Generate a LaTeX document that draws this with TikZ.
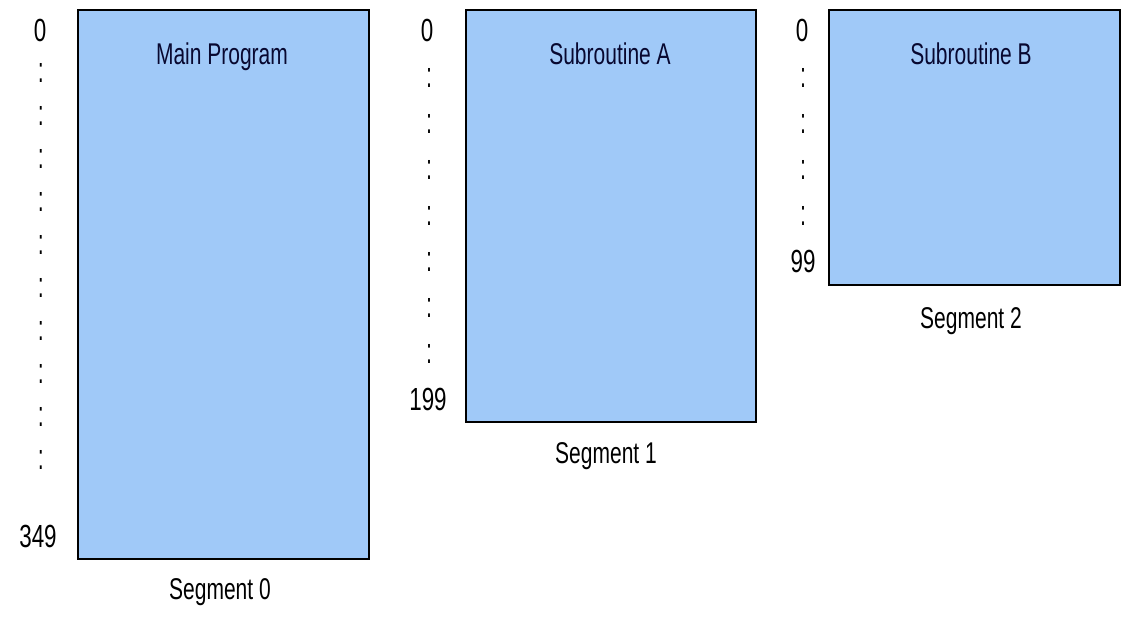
\documentclass[tikz,border=0pt]{standalone}
\usepackage{fontspec}
\usepackage{graphicx}
\usepackage{tikz}
\usepackage{xcolor}
\setmainfont{Liberation Sans}
\usetikzlibrary{positioning}
\definecolor{segBlue}{RGB}{160,201,248}
\definecolor{segText}{RGB}{8,8,48}
\tikzset{
  segbox/.style={draw=black, line width=2pt, fill=segBlue, inner sep=0pt, outer sep=0pt},
  segtitle/.style={anchor=base, inner sep=0pt, text=segText, font=\fontsize{30}{30}\selectfont},
  seglabel/.style={anchor=base, inner sep=0pt, font=\fontsize{30}{30}\selectfont},
  addr/.style={anchor=base, inner sep=0pt, font=\fontsize{32}{32}\selectfont},
  addrdots/.style={inner sep=0pt, font=\fontsize{36}{36}\selectfont}
}
\newcommand{\narrowtxt}[1]{\scalebox{0.7}[1]{#1}}

\begin{document}
\begin{tikzpicture}[x=1pt,y=-1pt]
  \useasboundingbox (0,0) rectangle (1125,634);

  % Segment boxes
  \node[segbox, minimum width=291, minimum height=549] (seg0) at (223.5,284.5) {};
  \node[segbox, minimum width=290, minimum height=412] (seg1) at (611,216) {};
  \node[segbox, minimum width=291, minimum height=275] (seg2) at (974.5,147.5) {};

  % Titles inside the boxes
  \node[segtitle] (title0) at (222,65) {\narrowtxt{Main Program}};
  \node[segtitle] (title1) at (610,65) {\narrowtxt{Subroutine A}};
  \node[segtitle] (title2) at (971,65) {\narrowtxt{Subroutine B}};

  % Segment names
  \node[seglabel] (name0) at (220,599) {\narrowtxt{Segment 0}};
  \node[seglabel] (name1) at (606,463) {\narrowtxt{Segment 1}};
  \node[seglabel] (name2) at (971,328) {\narrowtxt{Segment 2}};

  % Address ranges
  \node[addr] (lo0) at (40,42) {\narrowtxt{0}};
  \node[addr] (hi0) at (38,547) {\narrowtxt{349}};
  \node[addr] (lo1) at (427,42) {\narrowtxt{0}};
  \node[addr] (hi1) at (428,410) {\narrowtxt{199}};
  \node[addr] (lo2) at (802,42) {\narrowtxt{0}};
  \node[addr] (hi2) at (803,272) {\narrowtxt{99}};

  \foreach \i in {0,...,9}
    \node[addrdots] (dot0\i) at (41,73+43*\i) {\scalebox{0.55}[1]{:}};
  \foreach \i in {0,...,6}
    \node[addrdots] (dot1\i) at (429,78+46*\i) {\scalebox{0.55}[1]{:}};
  \foreach \i in {0,...,3}
    \node[addrdots] (dot2\i) at (803,78+46*\i) {\scalebox{0.55}[1]{:}};
\end{tikzpicture}
\end{document}
